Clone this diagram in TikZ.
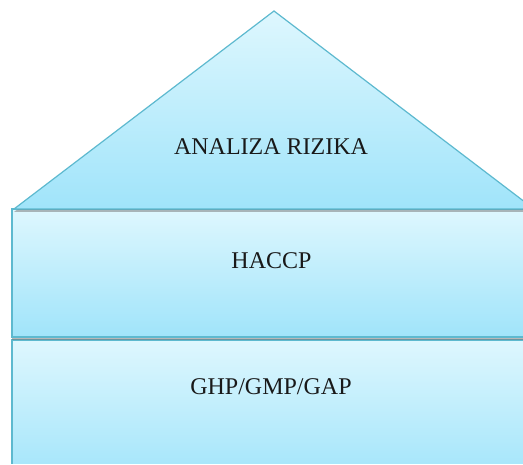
\documentclass[tikz,border=0pt]{standalone}
\usepackage{fontspec}
\setmainfont{Liberation Serif}
\usetikzlibrary{shadows}
\definecolor{lighttop}{HTML}{DEF7FE}
\definecolor{darkbot}{HTML}{A0E4FA}
\definecolor{edgec}{HTML}{5DB9CF}
\tikzset{
  layer/.style={draw=edgec, line width=1.2pt, top color=lighttop, bottom color=darkbot,
    drop shadow={shadow xshift=0pt, shadow yshift=-3pt, opacity=0.5, fill=black!55}},
  lbl/.style={font=\fontsize{24}{28}\selectfont, anchor=base, inner sep=0pt, text=black!90}
}
\begin{document}
\begin{tikzpicture}[x=1pt,y=1pt]
\useasboundingbox (0,0) rectangle (523,464);
\fill[white] (0,0) rectangle (523,464);
\clip (0,0) rectangle (523,464);
% bottom layer
\path[layer] (12,-20) rectangle (545,124);
% middle layer
\path[layer] (12,127) rectangle (545,255);
% roof
\path[layer] (14,255) -- (274,453) -- (534,255) -- cycle;
\node[lbl] (risk) at (271,309) {ANALIZA RIZIKA};
\node[lbl] (haccp) at (271.5,195) {HACCP};
\node[lbl] (ghp) at (271,69) {GHP/GMP/GAP};
\end{tikzpicture}
\end{document}
